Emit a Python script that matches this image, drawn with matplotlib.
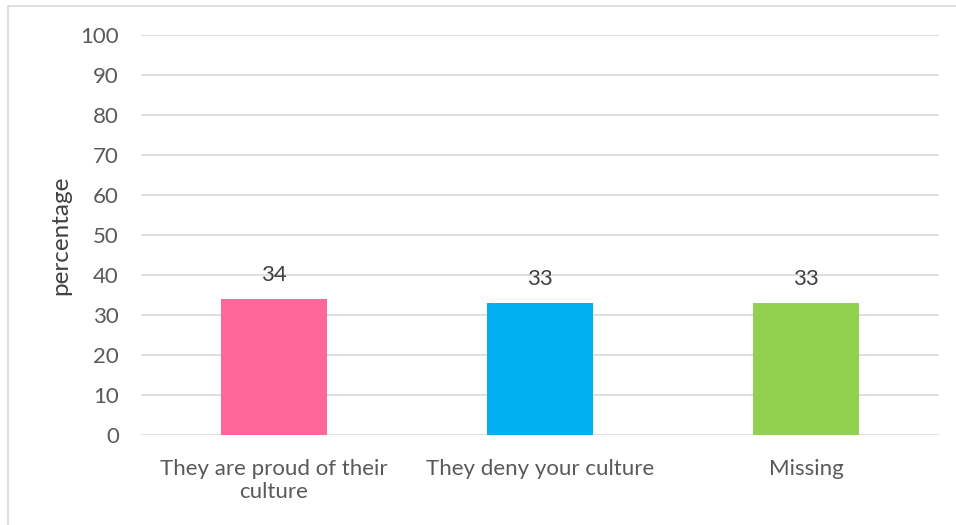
import matplotlib
matplotlib.use("Agg")
import matplotlib.pyplot as plt
from matplotlib.patches import Rectangle

categories = ["They are proud of their\nculture", "They deny your culture", "Missing"]
values = [34, 33, 33]
colors = ["#FF6699", "#00B0F0", "#92D050"]
yticks = [0, 10, 20, 30, 40, 50, 60, 70, 80, 90, 100]

plt.rcParams['font.family'] = ['Lato', 'DejaVu Sans']
txt = "#595959"

fig = plt.figure(figsize=(9.56, 5.25), dpi=100)
ax = fig.add_axes([141/956, 1-435/525, (939-141)/956, (435-35)/525])

x = list(range(len(categories)))
bars = ax.bar(x, values, width=0.40, color=colors, zorder=3)
for xi, v in zip(x, values):
    ax.annotate(str(v), (xi, v), xytext=(0, 10), textcoords="offset points",
                ha="center", va="bottom", fontsize=16, color="#404040")

ax.set_xlim(-0.5, len(categories) - 0.5)
ax.set_ylim(0, 100)
ax.set_yticks(yticks)
ax.set_yticklabels([str(t) for t in yticks])
ax.set_xticks(x)
ax.set_xticklabels(categories, linespacing=1.22)
ax.tick_params(axis="both", length=0, labelsize=16, labelcolor=txt)
ax.tick_params(axis="y", pad=16)
ax.tick_params(axis="x", pad=17)
ax.yaxis.grid(True, color="#D9D9D9", linewidth=1.2, zorder=0)
for s in ax.spines.values():
    s.set_visible(False)
ax.set_ylabel("percentage", fontsize=17.5, color="#404040")
ax.yaxis.set_label_coords(-0.087, 0.5)

fig.patches.append(Rectangle((8/956, -0.1), 1.2, 1 - 6/525 + 0.1,
                             transform=fig.transFigure, fill=False,
                             edgecolor="#D9D9D9", linewidth=1.2))

fig.savefig("out.png", dpi=100)
